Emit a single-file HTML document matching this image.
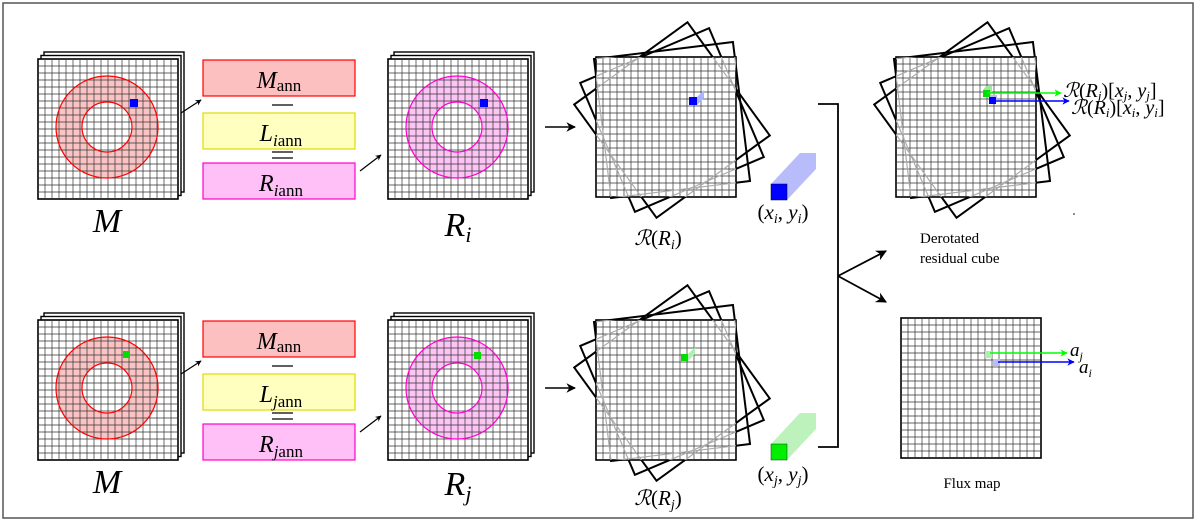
<!DOCTYPE html>
<html><head><meta charset="utf-8"><style>
html,body{margin:0;padding:0;background:#fff;}
svg{display:block;}
text{font-family:"Liberation Serif",serif;}
.m{font-style:italic;}
</style></head><body>
<svg width="1200" height="523" viewBox="0 0 1200 523" xmlns="http://www.w3.org/2000/svg">
<defs>
<g id="grid">
<rect x="0" y="0" width="140" height="140" fill="none" stroke="#000" stroke-width="1.6"/>
<path d="M7 0V140M14 0V140M21 0V140M28 0V140M35 0V140M42 0V140M49 0V140M56 0V140M63 0V140M70 0V140M77 0V140M84 0V140M91 0V140M98 0V140M105 0V140M112 0V140M119 0V140M126 0V140M133 0V140M0 7H140M0 14H140M0 21H140M0 28H140M0 35H140M0 42H140M0 49H140M0 56H140M0 63H140M0 70H140M0 77H140M0 84H140M0 91H140M0 98H140M0 105H140M0 112H140M0 119H140M0 126H140M0 133H140" stroke="#333" stroke-width="0.7" fill="none"/>
</g>
<g id="stack">
<rect x="6" y="-7" width="140" height="140" fill="#fff" stroke="#000" stroke-width="1.4"/>
<rect x="3" y="-3.5" width="140" height="140" fill="#fff" stroke="#000" stroke-width="1.4"/>
<rect x="0" y="0" width="140" height="140" fill="#fff"/>
</g>
<g id="rotblack" fill="none" stroke="#000" stroke-width="2">
<rect x="-70" y="-70" width="140" height="140" transform="rotate(-7)"/>
<rect x="-70" y="-70" width="140" height="140" transform="rotate(-23)"/>
<rect x="-70" y="-70" width="140" height="140" transform="rotate(-36)"/>
</g>
<g id="rotgray" fill="none" stroke="#aaa" stroke-width="1.2">
<rect x="-70" y="-70" width="140" height="140" transform="rotate(-7)"/>
<rect x="-70" y="-70" width="140" height="140" transform="rotate(-23)"/>
<rect x="-70" y="-70" width="140" height="140" transform="rotate(-36)"/>
</g>
<clipPath id="sq"><rect x="0" y="0" width="140" height="140"/></clipPath>
<g id="rotcube">
<g transform="translate(76,63)"><use href="#rotblack"/></g>
<rect width="140" height="140" fill="#fff"/>
<use href="#grid"/>
<g clip-path="url(#sq)"><g transform="translate(76,63)"><use href="#rotgray"/></g></g>
</g>
<marker id="ah" viewBox="0 0 10 10" refX="9" refY="5" markerWidth="6" markerHeight="6" orient="auto"><path d="M0 0L10 5L0 10L3 5z" fill="#000"/></marker>
<marker id="ahs" viewBox="0 0 10 10" refX="9" refY="5" markerWidth="5" markerHeight="5" orient="auto"><path d="M0 0L10 5L0 10L3 5z" fill="#000"/></marker>
<marker id="ag" viewBox="0 0 10 10" refX="9" refY="5" markerWidth="5" markerHeight="5" orient="auto"><path d="M0 0L10 5L0 10L3 5z" fill="#0f0"/></marker>
<marker id="ab" viewBox="0 0 10 10" refX="9" refY="5" markerWidth="5" markerHeight="5" orient="auto"><path d="M0 0L10 5L0 10L3 5z" fill="#00f"/></marker>
</defs>
<rect x="3" y="3" width="1190" height="515" fill="none" stroke="#555" stroke-width="1.5"/>

<g transform="translate(38,59)">
<use href="#stack"/>
<path fill="#fbc4c4" fill-rule="evenodd" d="M18 68a51 51 0 1 0 102 0a51 51 0 1 0 -102 0zM44 68a25 25 0 1 0 50 0a25 25 0 1 0 -50 0z"/>
<use href="#grid"/>
<circle cx="69" cy="68" r="51" fill="none" stroke="#f00" stroke-width="1.2"/>
<circle cx="69" cy="68" r="25" fill="none" stroke="#f00" stroke-width="1.2"/>
<rect x="92" y="40" width="8" height="8" fill="#00f"/>
</g>
<text x="107" y="232" class="m" font-size="34" text-anchor="middle">M</text>
<line x1="181" y1="113" x2="201" y2="100" stroke="#000" stroke-width="1.2" marker-end="url(#ahs)"/>

<rect x="203" y="60" width="152" height="36" fill="#fdc0c0" stroke="#f00" stroke-width="1.2"/>
<text x="279" y="88" text-anchor="middle" font-size="24"><tspan class="m">M</tspan><tspan font-size="17" dy="3">ann</tspan></text>
<line x1="272" y1="105" x2="293" y2="105" stroke="#000" stroke-width="1.3"/>
<rect x="203" y="113" width="152" height="36" fill="#ffffc0" stroke="#dd0" stroke-width="1.2"/>
<text x="281" y="141" text-anchor="middle" font-size="24"><tspan class="m">L</tspan><tspan class="m" font-size="17" dy="5">i</tspan><tspan font-size="17">ann</tspan></text>
<line x1="272" y1="152" x2="293" y2="152" stroke="#000" stroke-width="1.3"/>
<line x1="272" y1="158" x2="293" y2="158" stroke="#000" stroke-width="1.3"/>
<rect x="203" y="163" width="152" height="36" fill="#ffc0f8" stroke="#f0c" stroke-width="1.2"/>
<text x="281" y="191" text-anchor="middle" font-size="24"><tspan class="m">R</tspan><tspan class="m" font-size="17" dy="5">i</tspan><tspan font-size="17">ann</tspan></text>
<line x1="360" y1="171" x2="381" y2="155" stroke="#000" stroke-width="1.2" marker-end="url(#ahs)"/>

<g transform="translate(388,59)">
<use href="#stack"/>
<path fill="#fdc4f6" fill-rule="evenodd" d="M18 68a51 51 0 1 0 102 0a51 51 0 1 0 -102 0zM44 68a25 25 0 1 0 50 0a25 25 0 1 0 -50 0z"/>
<use href="#grid"/>
<circle cx="69" cy="68" r="51" fill="none" stroke="#f0c" stroke-width="1.2"/>
<circle cx="69" cy="68" r="25" fill="none" stroke="#f0c" stroke-width="1.2"/>
<rect x="92" y="40" width="8" height="8" fill="#00f"/>
</g>
<text x="458" y="236" font-size="34" text-anchor="middle"><tspan class="m">R</tspan><tspan class="m" font-size="22" dy="6">i</tspan></text>
<line x1="545" y1="127" x2="575" y2="127" stroke="#000" stroke-width="1.6" marker-end="url(#ah)"/>

<g transform="translate(596,57)"><use href="#rotcube"/></g>
<path d="M689 97l8 0l7 -7l0 8l-7 7z" fill="#aab4ff"/>
<rect x="689" y="97" width="8" height="8" fill="#00f"/>
<text x="658" y="245" font-size="21" text-anchor="middle"><tspan font-style="italic">ℛ</tspan>(<tspan class="m">R</tspan><tspan class="m" font-size="14" dy="4">i</tspan><tspan dy="-4">)</tspan></text>
<path d="M771 184l29 -31h16l0 16l-29 31z" fill="#b8bcfa"/>
<rect x="771" y="184" width="16" height="16" fill="#00f" stroke="#004" stroke-width="0.5"/>
<text x="783" y="219" font-size="21" text-anchor="middle">(<tspan class="m">x</tspan><tspan class="m" font-size="14" dy="4">i</tspan><tspan dy="-4">, </tspan><tspan class="m">y</tspan><tspan class="m" font-size="14" dy="4">i</tspan><tspan dy="-4">)</tspan></text>

<path d="M818 104H838V447H818" fill="none" stroke="#000" stroke-width="1.8"/>
<line x1="838" y1="276" x2="886" y2="251" stroke="#000" stroke-width="1.8" marker-end="url(#ah)"/>
<line x1="838" y1="276" x2="886" y2="302" stroke="#000" stroke-width="1.8" marker-end="url(#ah)"/>

<g transform="translate(896,57)"><use href="#rotcube"/></g>
<path d="M983 90l3 -4h6v6l-2 5z" fill="#9ee89e"/>
<rect x="983" y="90" width="7" height="7" fill="#0d0"/>
<rect x="990" y="95" width="7" height="5" fill="#b8bcfa"/>
<rect x="989" y="97" width="7" height="7" fill="#00f"/>
<line x1="987" y1="93" x2="1061" y2="93" stroke="#0f0" stroke-width="1.5" marker-end="url(#ag)"/>
<line x1="993" y1="101" x2="1069" y2="101" stroke="#00f" stroke-width="1.5" marker-end="url(#ab)"/>
<text x="1063" y="97" font-size="20"><tspan font-style="italic">ℛ</tspan>(<tspan class="m">R</tspan><tspan class="m" font-size="13" dy="3">j</tspan><tspan dy="-3">)[</tspan><tspan class="m">x</tspan><tspan class="m" font-size="13" dy="3">j</tspan><tspan dy="-3">, </tspan><tspan class="m">y</tspan><tspan class="m" font-size="13" dy="3">j</tspan><tspan dy="-3">]</tspan></text>
<text x="1071" y="114" font-size="20"><tspan font-style="italic">ℛ</tspan>(<tspan class="m">R</tspan><tspan class="m" font-size="13" dy="3">i</tspan><tspan dy="-3">)[</tspan><tspan class="m">x</tspan><tspan class="m" font-size="13" dy="3">i</tspan><tspan dy="-3">, </tspan><tspan class="m">y</tspan><tspan class="m" font-size="13" dy="3">i</tspan><tspan dy="-3">]</tspan></text>
<circle cx="1074" cy="214" r="0.8" fill="#000"/>
<text x="920" y="243" font-size="15">Derotated</text>
<text x="920" y="263" font-size="15">residual cube</text>

<g transform="translate(38,320)">
<use href="#stack"/>
<path fill="#fbc4c4" fill-rule="evenodd" d="M18 68a51 51 0 1 0 102 0a51 51 0 1 0 -102 0zM44 68a25 25 0 1 0 50 0a25 25 0 1 0 -50 0z"/>
<use href="#grid"/>
<circle cx="69" cy="68" r="51" fill="none" stroke="#f00" stroke-width="1.2"/>
<circle cx="69" cy="68" r="25" fill="none" stroke="#f00" stroke-width="1.2"/>
<rect x="85" y="31" width="7" height="7" fill="#0d0"/>
</g>
<text x="107" y="493" class="m" font-size="34" text-anchor="middle">M</text>
<line x1="181" y1="374" x2="201" y2="361" stroke="#000" stroke-width="1.2" marker-end="url(#ahs)"/>

<rect x="203" y="321" width="152" height="36" fill="#fdc0c0" stroke="#f00" stroke-width="1.2"/>
<text x="279" y="349" text-anchor="middle" font-size="24"><tspan class="m">M</tspan><tspan font-size="17" dy="3">ann</tspan></text>
<line x1="272" y1="366" x2="293" y2="366" stroke="#000" stroke-width="1.3"/>
<rect x="203" y="374" width="152" height="36" fill="#ffffc0" stroke="#dd0" stroke-width="1.2"/>
<text x="281" y="402" text-anchor="middle" font-size="24"><tspan class="m">L</tspan><tspan class="m" font-size="17" dy="5">j</tspan><tspan font-size="17">ann</tspan></text>
<line x1="272" y1="413" x2="293" y2="413" stroke="#000" stroke-width="1.3"/>
<line x1="272" y1="419" x2="293" y2="419" stroke="#000" stroke-width="1.3"/>
<rect x="203" y="424" width="152" height="36" fill="#ffc0f8" stroke="#f0c" stroke-width="1.2"/>
<text x="281" y="452" text-anchor="middle" font-size="24"><tspan class="m">R</tspan><tspan class="m" font-size="17" dy="5">j</tspan><tspan font-size="17">ann</tspan></text>
<line x1="360" y1="432" x2="381" y2="416" stroke="#000" stroke-width="1.2" marker-end="url(#ahs)"/>

<g transform="translate(388,320)">
<use href="#stack"/>
<path fill="#fdc4f6" fill-rule="evenodd" d="M18 68a51 51 0 1 0 102 0a51 51 0 1 0 -102 0zM44 68a25 25 0 1 0 50 0a25 25 0 1 0 -50 0z"/>
<use href="#grid"/>
<circle cx="69" cy="68" r="51" fill="none" stroke="#f0c" stroke-width="1.2"/>
<circle cx="69" cy="68" r="25" fill="none" stroke="#f0c" stroke-width="1.2"/>
<rect x="86" y="32" width="7" height="7" fill="#0d0"/>
</g>
<text x="458" y="495" font-size="34" text-anchor="middle"><tspan class="m">R</tspan><tspan class="m" font-size="22" dy="6">j</tspan></text>
<line x1="545" y1="388" x2="575" y2="388" stroke="#000" stroke-width="1.6" marker-end="url(#ah)"/>

<g transform="translate(596,320)"><use href="#rotcube"/></g>
<path d="M681 354l7 0l7 -7l0 7l-7 7z" fill="#aef0ae"/>
<rect x="681" y="354" width="7" height="7" fill="#0d0"/>
<text x="658" y="505" font-size="21" text-anchor="middle"><tspan font-style="italic">ℛ</tspan>(<tspan class="m">R</tspan><tspan class="m" font-size="14" dy="4">j</tspan><tspan dy="-4">)</tspan></text>
<path d="M771 444l29 -31h16l0 16l-29 31z" fill="#bdf2bd"/>
<rect x="771" y="444" width="16" height="16" fill="#0e0" stroke="#040" stroke-width="0.5"/>
<text x="783" y="481" font-size="21" text-anchor="middle">(<tspan class="m">x</tspan><tspan class="m" font-size="14" dy="4">j</tspan><tspan dy="-4">, </tspan><tspan class="m">y</tspan><tspan class="m" font-size="14" dy="4">j</tspan><tspan dy="-4">)</tspan></text>

<g transform="translate(901,318)"><use href="#grid"/>
<rect x="84" y="33" width="7" height="7" fill="#aef0ae"/>
<rect x="92" y="41" width="7" height="7" fill="#b8bcfa"/>
</g>
<line x1="990" y1="353" x2="1067" y2="353" stroke="#0f0" stroke-width="1.5" marker-end="url(#ag)"/>
<line x1="998" y1="362" x2="1074" y2="362" stroke="#00f" stroke-width="1.5" marker-end="url(#ab)"/>
<text x="1070" y="356" class="m" font-size="19">a<tspan font-size="12" dy="4">j</tspan></text>
<text x="1079" y="373" class="m" font-size="19">a<tspan font-size="12" dy="4">i</tspan></text>
<text x="972" y="488" font-size="15" text-anchor="middle">Flux map</text>
</svg>
</body></html>
